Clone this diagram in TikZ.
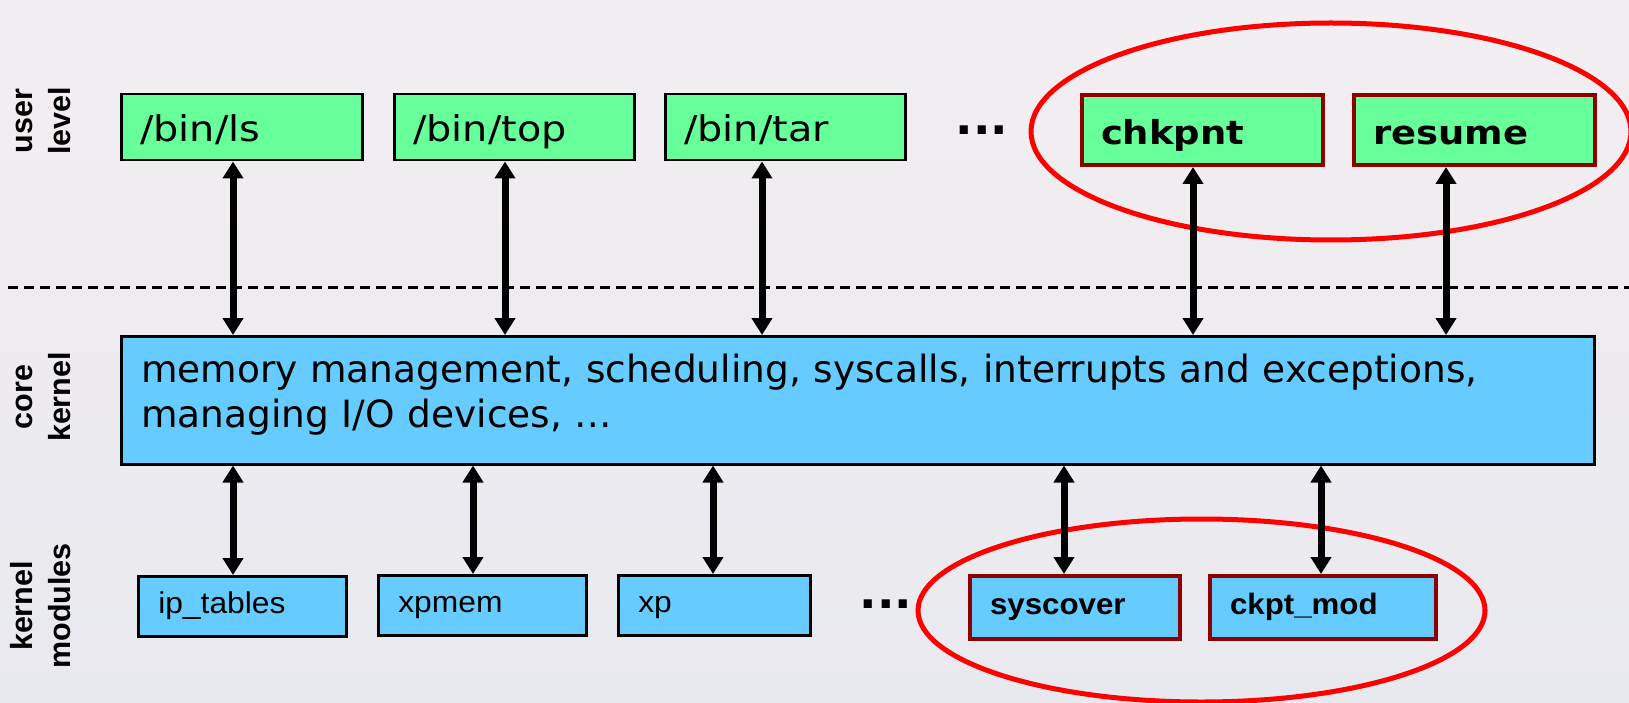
\documentclass[tikz,border=0pt]{standalone}
\usepackage{fontspec}
\setmainfont{DejaVu Sans}
\newfontfamily\topfont[FakeStretch=1.12]{DejaVu Sans}
\newfontfamily\modfont[FakeStretch=1.06]{Liberation Sans}
\newfontfamily\sidefont{Liberation Sans}
\usetikzlibrary{arrows.meta,shapes.geometric}
\definecolor{usergreen}{HTML}{66FF99}
\definecolor{kernblue}{HTML}{66CCFF}
\definecolor{hiedge}{HTML}{8C0000}
\definecolor{bgtop}{HTML}{F3EEF1}
\definecolor{bgbot}{HTML}{E8E9EF}
\tikzset{
  box/.style={anchor=north west, inner ysep=0pt, align=left, draw=black, line width=2.5pt},
  ubox/.style={box, fill=usergreen, inner xsep=19pt, minimum height=66pt, text height=31pt, text depth=2pt,
    font=\topfont\fontsize{35.5}{40}\selectfont},
  hiubox/.style={ubox, draw=hiedge, line width=4pt, minimum height=70pt,
    font=\topfont\bfseries\fontsize{33}{40}\selectfont},
  corebox/.style={box, fill=kernblue, inner xsep=20pt, minimum height=128pt,
    font=\fontsize{37.5}{45}\selectfont},
  mbox/.style={box, fill=kernblue, inner xsep=20pt, minimum height=60pt, text height=22pt, text depth=8pt,
    font=\modfont\fontsize{30}{36}\selectfont},
  himbox/.style={mbox, draw=hiedge, line width=4pt, minimum height=63pt,
    font=\modfont\bfseries\fontsize{29.5}{36}\selectfont},
  side/.style={rotate=90, align=center, inner sep=0pt, font=\sidefont\bfseries\fontsize{30.5}{38}\selectfont},
  dotsnode/.style={inner sep=0pt, font=\bfseries\fontsize{46}{46}\selectfont},
  biarrow/.style={line width=7pt, {Triangle[width=20pt,length=17pt]}-{Triangle[width=20pt,length=17pt]}},
  hiring/.style={ellipse, draw=red, line width=5pt, inner sep=0pt},
  sepline/.style={line width=3pt, dash pattern=on 10pt off 6pt}
}
\begin{document}
\begin{tikzpicture}[x=1pt,y=-1pt]
\useasboundingbox (0,0) rectangle (1629,703);
\shade[top color=bgtop, bottom color=bgbot] (0,0) rectangle (1629,703);

% highlight ellipses
\node[hiring, minimum width=600pt, minimum height=217pt] (ue) at (1331,131.5) {};
\node[hiring, minimum width=567pt, minimum height=183pt] (me) at (1201.5,610.5) {};

% separator
\coordinate (dl) at (8,287);
\coordinate (dr) at (1629,287);
\draw[sepline] (dl) -- (dr);

% side labels
\node[side] (ul) at (43,121) {user\\level};
\node[side] (ck) at (43,397) {core\\kernel};
\node[side] (km) at (41,606) {kernel\\modules};

% user level
\node[ubox, minimum width=241pt, text width=203pt] (ls) at (120,93) {/bin/ls};
\node[ubox, minimum width=240pt, text width=202pt] (top) at (393,93) {/bin/top};
\node[ubox, minimum width=240pt, text width=202pt] (tar) at (664,93) {/bin/tar};
\node[dotsnode] (udots) at (982,130) {...};
\node[hiubox, minimum width=241pt, text width=203pt] (chk) at (1080,93) {chkpnt};
\node[hiubox, minimum width=241pt, text width=203pt] (res) at (1352,93) {resume};

% core kernel
\node[corebox, minimum width=1473pt, text width=1433pt] (core) at (120,335)
  {memory management, scheduling, syscalls, interrupts and exceptions,\\
   managing I/O devices, …\rule[-18pt]{0pt}{18pt}};

% kernel modules
\node[mbox, minimum width=208pt, text width=168pt] (ipt) at (137,575) {ip\_tables};
\node[mbox, minimum width=208pt, text width=168pt] (xpm) at (377,574) {xpmem};
\node[mbox, minimum width=192pt, text width=152pt] (xp) at (617,574) {xp};
\node[dotsnode] (mdots) at (886,604) {...};
\node[himbox, minimum width=210pt, text width=170pt] (sysc) at (968,574) {syscover};
\node[himbox, minimum width=226pt, text width=186pt] (ckm) at (1208,574) {ckpt\_mod};

% arrow columns
\coordinate (a1) at (233,0);
\coordinate (a2) at (505,0);
\coordinate (a3) at (762,0);
\coordinate (a4) at (1193,0);
\coordinate (a5) at (1446,0);
\coordinate (b1) at (233,0);
\coordinate (b2) at (473,0);
\coordinate (b3) at (713,0);
\coordinate (b4) at (1064,0);
\coordinate (b5) at (1321,0);

\draw[biarrow] (ls.south -| a1) -- (core.north -| a1);
\draw[biarrow] (top.south -| a2) -- (core.north -| a2);
\draw[biarrow] (tar.south -| a3) -- (core.north -| a3);
\draw[biarrow] (chk.south -| a4) -- (core.north -| a4);
\draw[biarrow] (res.south -| a5) -- (core.north -| a5);

\draw[biarrow] (core.south -| b1) -- (ipt.north -| b1);
\draw[biarrow] (core.south -| b2) -- (xpm.north -| b2);
\draw[biarrow] (core.south -| b3) -- (xp.north -| b3);
\draw[biarrow] (core.south -| b4) -- (sysc.north -| b4);
\draw[biarrow] (core.south -| b5) -- (ckm.north -| b5);
\end{tikzpicture}
\end{document}
